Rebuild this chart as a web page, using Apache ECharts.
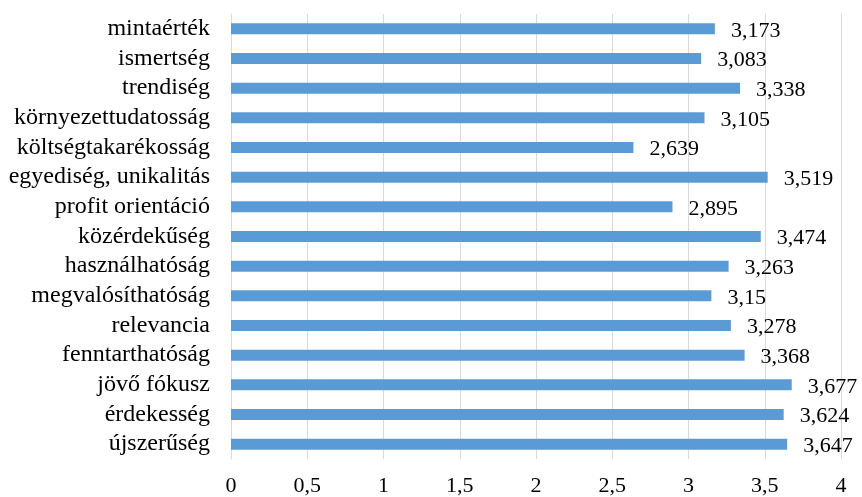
<!DOCTYPE html>
<html>
<head>
<meta charset="utf-8">
<script src="https://cdn.jsdelivr.net/npm/echarts@6/dist/echarts.min.js"></script>
<style>
html,body{margin:0;padding:0;background:#fff;}
#chart{width:862px;height:497px;}
</style>
</head>
<body>
<div id="chart"></div>
<script>
// bottom to top
var categories = ["újszerűség","érdekesség","jövő fókusz","fenntarthatóság","relevancia","megvalósíthatóság","használhatóság","közérdekűség","profit orientáció","egyediség, unikalitás","költségtakarékosság","környezettudatosság","trendiség","ismertség","mintaérték"];
var values = [3.647,3.624,3.677,3.368,3.278,3.15,3.263,3.474,2.895,3.519,2.639,3.105,3.338,3.083,3.173];
var xTicks = [0,0.5,1,1.5,2,2.5,3,3.5,4];

var FONT = "'Liberation Serif', 'Times New Roman', serif";
function fmt(v){ return String(v).replace('.', ','); }

var chart = echarts.init(document.getElementById('chart'), null, {renderer:'canvas'});
chart.setOption({
  animation:false,
  grid:{left:231, right:21, top:14, bottom:37, containLabel:false},
  xAxis:{
    type:'value', min:xTicks[0], max:xTicks[xTicks.length-1], interval:0.5,
    axisLine:{show:false}, axisTick:{show:false},
    splitLine:{show:true, lineStyle:{color:'#d9d9d9', width:1}},
    axisLabel:{margin:16, color:'#000', fontFamily:FONT, fontSize:22,
      formatter:function(v){ return fmt(v); }}
  },
  yAxis:{
    type:'category', data:categories,
    axisLine:{show:true, lineStyle:{color:'#d9d9d9', width:1}},
    axisTick:{show:false},
    axisLabel:{interval:0, hideOverlap:false, margin:21, color:'#000', fontFamily:FONT, fontSize:24}
  },
  series:[{
    type:'bar', data:values, barWidth:11,
    itemStyle:{color:'#5b9bd5'},
    label:{show:true, position:'right', distance:16, offset:[0,2], color:'#000',
      fontFamily:FONT, fontSize:22,
      formatter:function(p){ return fmt(p.value); }}
  }]
});
</script>
</body>
</html>
